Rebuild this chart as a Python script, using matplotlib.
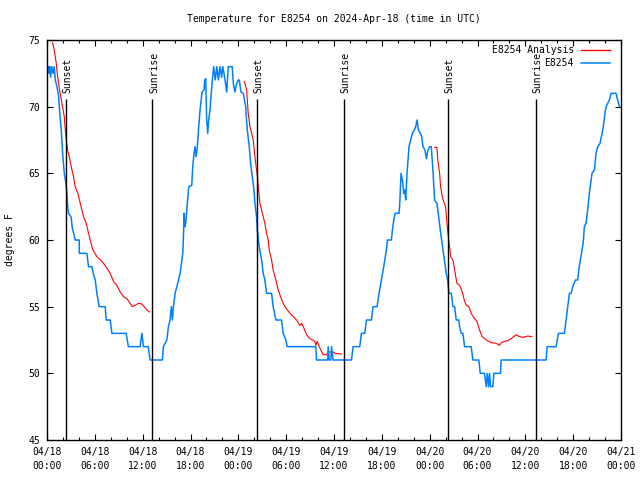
"""
E8254 temperature chart (obs + analysis) with sunrise / sunset markers.
"""
from datetime import datetime, timedelta

import matplotlib
matplotlib.use('Agg')
import matplotlib.pyplot as plt
import matplotlib.dates as mdates

BASE = datetime(2024, 4, 18)

# observed station temps: hours since 04/18 00:00 UTC, degrees F
obs_hours = [0.15, 0.25, 0.35, 0.45, 0.6, 0.75, 0.9, 1.04, 1.25, 1.46, 1.6, 1.79, 1.96, 2.17, 2.3,
             2.37, 2.5, 2.6, 2.71, 3.04, 3.15, 3.25, 3.54, 4.04, 4.05, 5.0, 5.1, 5.21, 5.63, 5.8,
             6.05, 6.26, 6.55, 7.3, 7.43, 7.93, 8.14, 9.93, 10.2, 11.68, 11.9, 12.0, 12.1, 12.7,
             12.93, 14.47, 14.6, 15.03, 15.23, 15.44, 15.6, 15.73, 15.86, 16.07, 16.5, 16.7, 17.03,
             17.1, 17.2, 17.32, 17.44, 17.6, 17.78, 18.16, 18.28, 18.45, 18.57, 18.7, 18.86, 19.03,
             19.2, 19.45, 19.7, 19.78, 19.91, 20.03, 20.16, 20.28, 20.45, 20.57, 20.74, 20.91, 21.1,
             21.3, 21.5, 21.7, 21.9, 22.05, 22.2, 22.33, 22.54, 22.74, 23.24, 23.37, 23.57, 23.79,
             24.0, 24.12, 24.33, 24.62, 24.92, 25.12, 25.37, 25.54, 25.75, 25.96, 26.08, 26.29,
             26.37, 26.62, 26.92, 27.12, 27.33, 27.54, 28.17, 28.37, 28.71, 29.42, 29.62, 29.96,
             30.13, 33.72, 33.81, 35.2, 35.27, 35.4, 35.6, 35.69, 35.89, 38.19, 38.4, 39.23, 39.44,
             39.86, 40.07, 40.69, 40.9, 41.4, 41.65, 41.95, 42.24, 42.57, 42.7, 43.2, 43.33, 43.5,
             43.66, 44.16, 44.25, 44.41, 44.58, 44.75, 44.87, 45.0, 45.16, 45.28, 45.41, 45.62,
             45.83, 46.08, 46.25, 46.41, 46.58, 46.83, 47.0, 47.16, 47.41, 47.58, 47.79, 48.0, 48.2,
             48.41, 48.62, 48.91, 49.08, 49.33, 49.5, 49.66, 50.08, 50.25, 50.42, 50.71, 50.92,
             51.13, 51.33, 51.67, 51.75, 51.96, 52.17, 52.38, 53.21, 53.42, 54.17, 54.34, 54.88,
             55.1, 55.22, 55.39, 55.51, 55.64, 55.93, 56.05, 56.89, 56.97, 62.6, 62.73, 63.86,
             64.15, 64.9, 65.11, 65.32, 65.53, 65.74, 65.95, 66.28, 66.57, 66.7, 66.9, 67.12, 67.29,
             67.4, 67.61, 67.82, 68.03, 68.36, 68.66, 68.87, 69.08, 69.37, 69.62, 69.79, 70.04,
             70.2, 70.54, 70.75, 71.38, 71.58, 71.8]
obs_temps = [73, 72.5, 73, 72.2, 73, 72.5, 73, 72, 71.5, 70.75, 69.5, 68.25, 66.5, 65, 64.5,
             64.25, 63.5, 62.5, 62, 61.7, 61, 60.75, 60, 60, 59, 59, 58.5, 58, 58, 57.5,
             57, 56, 55, 55, 54, 54, 53, 53, 52, 52, 53, 52.5, 52, 52,
             51, 51, 52, 52.5, 53.5, 54, 55, 54, 55, 56, 57, 57.5, 59,
             60, 62, 61, 61.5, 62.75, 64, 64.1, 65.5, 66.5, 67, 66.25, 67, 68.5,
             69.75, 71.1, 71.25, 72, 72.1, 69, 68, 69, 69.75, 70.75, 72, 73, 72,
             73, 72, 73, 72.2, 73, 72.5, 72, 71.1, 73, 73, 71.75, 71.1, 71.75,
             72, 72, 71.1, 71, 70, 68.25, 67, 65.75, 64.75, 63.75, 62.75, 61.75,
             60.75, 59.5, 58.5, 57.5, 57, 56, 56, 55, 54, 54, 53, 52.5,
             52, 52, 51, 51, 52, 51, 51, 52, 51, 51, 52, 52, 53,
             53, 54, 54, 55, 55, 56, 57, 58, 59.25, 60, 60, 60.75, 61.5,
             62, 62, 62.75, 65, 64.5, 63.5, 63.75, 63, 65, 66, 67, 67.5,
             68, 68.25, 68.5, 69, 68.25, 68, 67.75, 67, 66.75, 66.1, 66.75, 67, 67,
             65.25, 63, 62.75, 62, 60.75, 60, 59.25, 57.5, 57, 56, 56, 55,
             55, 54, 54, 53.5, 53, 53, 52, 52, 51, 51, 50, 50,
             49, 50, 49, 50, 49, 49, 50, 50, 51, 51, 52, 52,
             53, 53, 54, 55, 56, 56, 56.5, 57, 57, 57.75, 58.5, 59.25, 60,
             61, 61.25, 62.25, 63.5, 65, 65.25, 66.5, 67, 67.25, 68, 68.5, 69.75,
             70.1, 70.5, 71, 71, 70.5, 70]

# analysis, one run per evening
ana1_hours = [0.7, 0.91, 1.16, 1.33, 1.58, 1.87, 2.17, 2.29, 2.42, 2.58, 2.79, 3.04, 3.33, 3.54,
              3.88, 4.17, 4.58, 4.92, 5.21, 5.42, 5.63, 5.76, 6.26, 6.89, 7.51, 7.93, 8.34, 8.76,
              9.18, 9.59, 10.02, 10.43, 10.68, 11.06, 11.47, 11.9, 12.18, 12.52, 12.85]
ana1_temps = [74.8, 74.25, 73.25, 72.25, 71.25, 70.25, 69.25, 68.25, 67.5, 66.75, 66.25, 65.5,
              64.75, 64, 63.5, 62.75, 61.75, 61.25, 60.5, 60, 59.5, 59.25, 58.75, 58.4, 57.9,
              57.5, 56.9, 56.6, 56.1, 55.75, 55.6, 55.25, 55, 55.1, 55.25, 55.2, 55, 54.75, 54.6]

ana2_hours = [24.75, 25.04, 25.24, 25.46, 25.67, 25.87, 26.08, 26.29, 26.41, 26.5, 26.71, 26.92,
              27.12, 27.33, 27.54, 27.75, 27.87, 28.17, 28.37, 28.71, 29.0, 29.3, 29.62, 29.96,
              30.47, 30.88, 31.3, 31.72, 31.93, 32.22, 32.56, 32.97, 33.6, 33.72, 33.89, 34.14,
              34.64, 35.05, 35.39, 35.89, 36.1, 36.94]
ana2_temps = [71.9, 71.25, 69.5, 68.5, 68, 67.5, 66.25, 65.25, 64.75, 64, 62.75, 62.25, 61.75,
              61.25, 60.5, 60, 59.25, 58.5, 57.75, 57, 56.25, 55.75, 55.25, 54.9, 54.5, 54.25,
              54, 53.6, 53.75, 53.4, 52.9, 52.6, 52.4, 52.1, 52.4, 52, 51.4, 51.4, 51.6, 51.6,
              51.5, 51.45]

ana3_hours = [48.62, 48.91, 49.04, 49.25, 49.37, 49.58, 49.75, 50.0, 50.17, 50.29, 50.5, 50.63,
              50.92, 51.13, 51.42, 51.75, 52.09, 52.38, 52.59, 52.92, 53.21, 53.63, 53.92, 54.26,
              54.59, 55.1, 55.72, 56.35, 56.76, 56.97, 57.39, 57.8, 58.23, 58.64, 58.85, 59.27,
              59.77, 60.31, 60.81]
ana3_temps = [66.95, 66.95, 65.9, 65, 64, 63.25, 62.9, 62.5, 61.25, 60.5, 59.5, 58.75, 58.5,
              57.75, 56.75, 56.6, 56.1, 55.4, 55.1, 55, 54.5, 54.1, 53.9, 53.25, 52.75, 52.5,
              52.3, 52.25, 52.1, 52.3, 52.4, 52.45, 52.6, 52.8, 52.9, 52.75, 52.7, 52.8, 52.75]

sunset_hours = [2.33, 26.37, 50.29]
sunrise_hours = [13.22, 37.27, 61.36]


def to_dt(hours):
    return [BASE + timedelta(hours=h) for h in hours]


FONT = 'DejaVu Sans Mono'
plt.rcParams['font.family'] = FONT
plt.rcParams['font.size'] = 7

fig = plt.figure(figsize=(6.4, 4.8), dpi=100)
ax = fig.add_axes([47 / 640, 40 / 480, 574 / 640, 400 / 480])

# analysis drawn first, obs on top (same order as the legend)
for hh, tt in [(ana1_hours, ana1_temps), (ana2_hours, ana2_temps), (ana3_hours, ana3_temps)]:
    ax.plot(to_dt(hh), tt, color='#ff0000', lw=0.8)
ax.plot(to_dt(obs_hours), obs_temps, color='#0080ff', lw=1.1)

# sun markers
for name, hrs in [('Sunset', sunset_hours), ('Sunrise', sunrise_hours)]:
    for t in to_dt(hrs):
        ax.vlines(t, 45, 70.6, color='black', lw=1.0)
        ax.text(t + timedelta(hours=0.2), 71.0, name, rotation=90,
                ha='center', va='bottom', fontsize=7)

ax.set_xlim(BASE, BASE + timedelta(days=3))
ax.set_ylim(45, 75)
ax.set_yticks(range(45, 76, 5))

ax.xaxis.set_major_locator(mdates.HourLocator(byhour=[0, 6, 12, 18]))
ax.xaxis.set_minor_locator(mdates.HourLocator(interval=2))
ax.xaxis.set_major_formatter(mdates.DateFormatter('%m/%d\n%H:%M'))

ax.tick_params(axis='both', which='major', direction='in', length=4.5, width=0.8,
               top=True, right=True, labelsize=7, pad=5)
ax.tick_params(axis='x', which='minor', direction='in', length=2.2, width=0.8, top=True)
for lab in ax.get_xticklabels():
    lab.set_linespacing(1.45)
for sp in ax.spines.values():
    sp.set_linewidth(1.0)

# legend, gnuplot style (text on the left, sample on the right)
ax.text(0.918, 0.975, 'E8254 Analysis', transform=ax.transAxes, ha='right', va='center')
ax.plot([0.930, 0.981], [0.975, 0.975], transform=ax.transAxes, color='#ff0000', lw=1.0)
ax.text(0.918, 0.9425, 'E8254', transform=ax.transAxes, ha='right', va='center')
ax.plot([0.930, 0.981], [0.9425, 0.9425], transform=ax.transAxes, color='#0080ff', lw=1.1)

fig.text(334 / 640, 1 - 19 / 480, 'Temperature for E8254 on 2024-Apr-18 (time in UTC)',
         ha='center', va='center', fontsize=7)
fig.text(10 / 640, 0.5, 'degrees F', rotation=90, ha='center', va='center', fontsize=7)

fig.savefig('out.png', dpi=100)
